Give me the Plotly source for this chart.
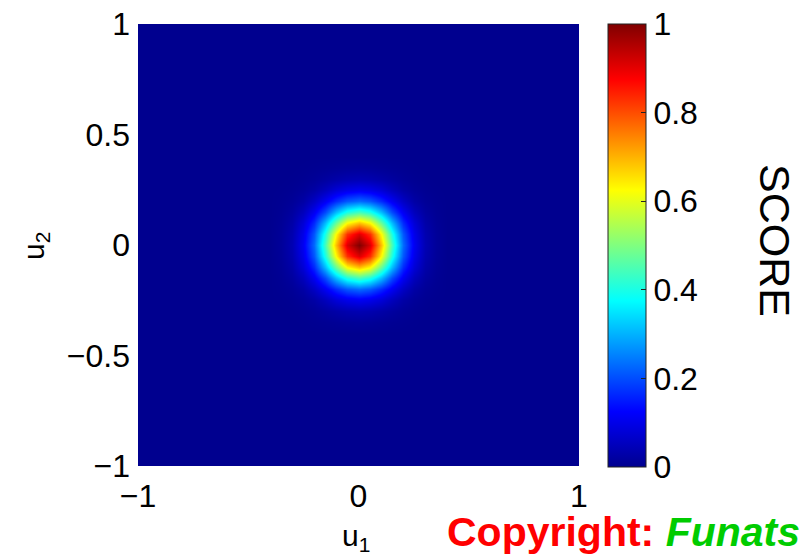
import numpy as np
import plotly.graph_objects as go

# Grid coordinates (u1, u2)
u_coords = np.round(np.arange(-1, 1.0001, 0.05), 2)

# SCORE for one quadrant (rows: |u2| = 0..0.35, cols: |u1| = 0..0.35, step 0.05)
score_quadrant = [
    [1.00, 0.91, 0.69, 0.44, 0.23, 0.11, 0.04, 0.012],
    [0.91, 0.83, 0.63, 0.40, 0.21, 0.10, 0.036, 0.011],
    [0.69, 0.63, 0.48, 0.31, 0.165, 0.08, 0.028, 0.008],
    [0.44, 0.40, 0.31, 0.195, 0.11, 0.05, 0.018, 0.005],
    [0.23, 0.21, 0.165, 0.11, 0.06, 0.025, 0.009, 0.003],
    [0.11, 0.10, 0.08, 0.05, 0.025, 0.011, 0.004, 0.001],
    [0.04, 0.036, 0.028, 0.018, 0.009, 0.004, 0.001, 0.0],
    [0.012, 0.011, 0.008, 0.005, 0.003, 0.001, 0.0, 0.0],
]

x_ticks = [-1, 0, 1]
y_ticks = [-1, -0.5, 0, 0.5, 1]
cbar_ticks = [0, 0.2, 0.4, 0.6, 0.8, 1]

q = np.array(score_quadrant)
idx = np.abs(np.arange(-7, 8))
block = q[np.ix_(idx, idx)]
pad = (len(u_coords) - block.shape[0]) // 2
Z = np.pad(block, pad)

jet = [
    [0.0, "rgb(0,0,143)"],
    [0.125, "rgb(0,0,255)"],
    [0.375, "rgb(0,255,255)"],
    [0.625, "rgb(255,255,0)"],
    [0.875, "rgb(255,0,0)"],
    [1.0, "rgb(128,0,0)"],
]

FONT = "Liberation Sans, Arial, sans-serif"

fig = go.Figure(
    go.Heatmap(
        x=u_coords,
        y=u_coords,
        z=Z,
        zmin=0,
        zmax=1,
        zsmooth="best",
        colorscale=jet,
        colorbar=dict(
            x=(608 - 138) / 441,
            xanchor="left",
            xpad=0,
            y=(466 - 467) / 442,
            yanchor="bottom",
            ypad=0,
            len=443,
            lenmode="pixels",
            thickness=38,
            thicknessmode="pixels",
            outlinewidth=1,
            outlinecolor="#222",
            tickvals=cbar_ticks,
            ticktext=[f"{v:g}" for v in cbar_ticks],
            ticks="inside",
            ticklen=5,
            tickcolor="#222",
            tickfont=dict(family=FONT, size=32, color="black"),
        ),
        hoverinfo="skip",
    )
)

fig.update_layout(
    width=803,
    height=559,
    margin=dict(l=138, r=803 - 579, t=24, b=559 - 466, autoexpand=False),
    paper_bgcolor="white",
    plot_bgcolor="rgb(0,0,143)",
    font=dict(family=FONT, color="black"),
    xaxis=dict(
        range=[-1, 1],
        tickvals=x_ticks,
        showgrid=False,
        zeroline=False,
        ticks="",
        ticklabelstandoff=8,
        tickfont=dict(size=32),
        showline=False,
        automargin=False,
    ),
    yaxis=dict(
        range=[-1, 1],
        tickvals=y_ticks,
        showgrid=False,
        zeroline=False,
        ticks="",
        ticklabelstandoff=7,
        tickfont=dict(size=32),
        showline=False,
        automargin=False,
    ),
    annotations=[
        dict(
            text="u<sub>1</sub>", xref="paper", yref="paper",
            x=(356 - 138) / 441, y=(466 - 537) / 442,
            xanchor="center", yanchor="middle", showarrow=False,
            font=dict(size=30, family=FONT, color="black"),
        ),
        dict(
            text="u<sub>2</sub>", xref="paper", yref="paper",
            x=(35 - 138) / 441, y=(466 - 246) / 442,
            xanchor="center", yanchor="middle", showarrow=False, textangle=-90,
            font=dict(size=30, family=FONT, color="black"),
        ),
        dict(
            text="SCORE", xref="paper", yref="paper",
            x=(775 - 138) / 441, y=(466 - 240) / 442,
            xanchor="center", yanchor="middle", showarrow=False, textangle=90,
            font=dict(size=43, family=FONT, color="black"),
        ),
        dict(
            text="<b><span style='color:#ff0000'>Copyright:</span> "
                 "<span style='color:#00cc00'><i>Funats</i></span></b>",
            xref="paper", yref="paper",
            x=(445 - 138) / 441, y=(466 - 532) / 442,
            xanchor="left", yanchor="middle", showarrow=False,
            font=dict(size=41, family=FONT),
        ),
    ],
)

fig.write_html("out.html")
